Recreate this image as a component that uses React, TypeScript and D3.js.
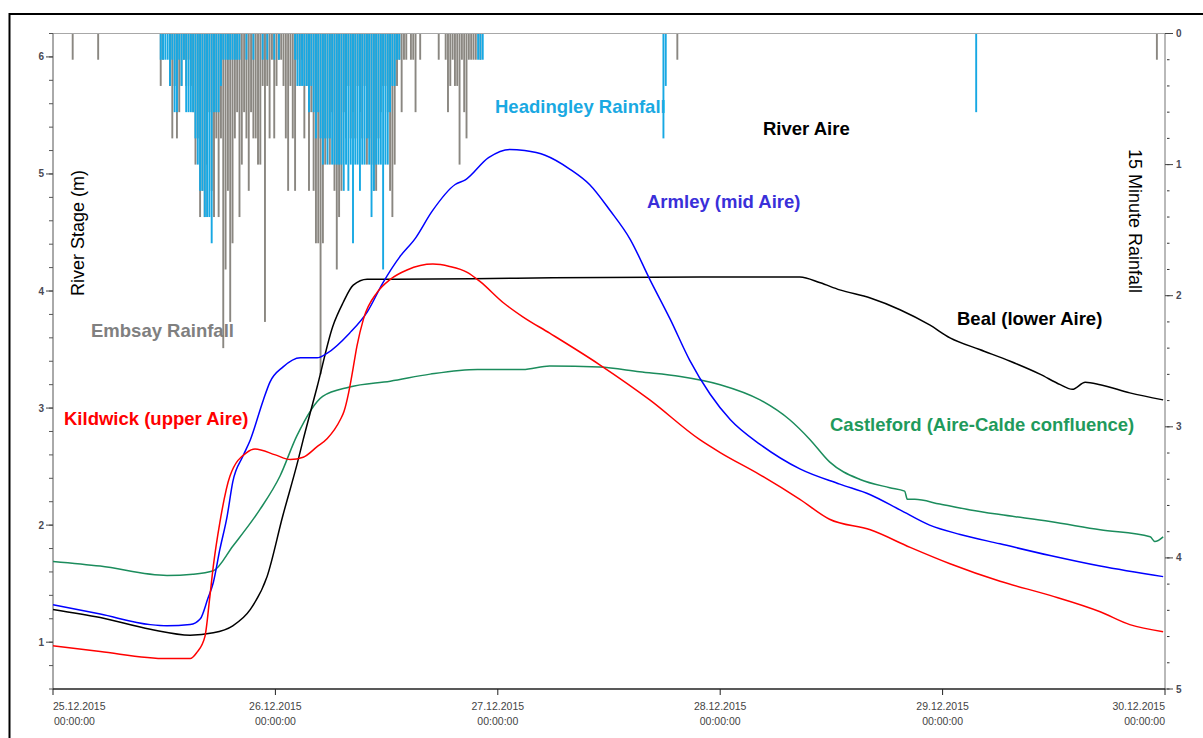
import React from 'react';
import * as d3 from 'd3';

// ---- axis labels ----
const dayLabels = ['25.12.2015', '26.12.2015', '27.12.2015', '28.12.2015', '29.12.2015', '30.12.2015'];
const timeLabel = '00:00:00';
const stageTicks = [1, 2, 3, 4, 5, 6];
const rainTicks = [0, 1, 2, 3, 4, 5];

// ---- river stage series: [hours since 25.12.2015 00:00, stage m] ----
const kildwick: [number, number][] = [
  [0, 0.97], [5.1, 0.92], [12.3, 0.86], [14.8, 0.86], [15.5, 0.91], [16.4, 1.05], [16.9, 1.37], [17.3, 1.65],
  [18.0, 2.02], [19.1, 2.42], [20.9, 2.62], [21.8, 2.65], [24.0, 2.6], [25.6, 2.56], [27.0, 2.58], [28.5, 2.67],
  [29.6, 2.74], [31.0, 2.9], [31.4, 2.97], [31.9, 3.13], [32.3, 3.3], [32.8, 3.53], [33.5, 3.76], [35.0, 3.99],
  [36.4, 4.1], [38.2, 4.18], [41.0, 4.23], [42.8, 4.21], [44.7, 4.16], [46.1, 4.08], [48.6, 3.9], [50.7, 3.78],
  [53.6, 3.64], [59.0, 3.37], [64.4, 3.07], [69.8, 2.73], [72.0, 2.62], [76.3, 2.43], [80.6, 2.22], [83.8, 2.05],
  [88.2, 1.96], [92.5, 1.81], [96.8, 1.67], [102.2, 1.52], [107.6, 1.4], [113.0, 1.26], [116.2, 1.15], [119.8, 1.09],
];
const armley: [number, number][] = [
  [0, 1.32], [5.1, 1.24], [10.5, 1.15], [12.3, 1.14], [14.8, 1.15], [15.9, 1.2], [16.7, 1.37], [17.3, 1.51],
  [18.0, 1.79], [18.8, 2.08], [19.4, 2.37], [20.5, 2.59], [21.3, 2.73], [22.7, 3.07], [23.4, 3.22], [24.8, 3.35],
  [26.7, 3.43], [28.5, 3.43], [29.6, 3.47], [32.0, 3.64], [33.9, 3.82], [35.6, 4.07], [37.4, 4.29], [39.1, 4.45],
  [40.9, 4.68], [43.4, 4.91], [44.5, 4.95], [47.0, 5.14], [49.3, 5.21], [50.9, 5.2], [53.1, 5.16], [55.8, 5.04],
  [57.9, 4.91], [60.1, 4.69], [62.3, 4.44], [64.4, 4.1], [66.6, 3.76], [68.7, 3.41], [70.9, 3.12], [73.1, 2.9],
  [76.3, 2.69], [80.6, 2.48], [84.9, 2.35], [88.2, 2.26], [91.4, 2.13], [94.6, 2.0], [97.9, 1.92], [102.2, 1.84],
  [107.6, 1.74], [113.0, 1.65], [119.8, 1.56],
];
const beal: [number, number][] = [
  [0, 1.28], [5.1, 1.21], [10.5, 1.11], [14.8, 1.06], [17.3, 1.08], [19.4, 1.14], [21.3, 1.28], [23.1, 1.56],
  [24.8, 2.08], [26.4, 2.54], [27.0, 2.73], [28.5, 3.18], [30.2, 3.7], [31.3, 3.9], [32.4, 4.05], [33.9, 4.1],
  [36.4, 4.1], [50.0, 4.11], [70.0, 4.12], [80.6, 4.12], [82.8, 4.07], [84.9, 4.01], [88.2, 3.94], [91.4, 3.84],
  [94.6, 3.71], [96.8, 3.6], [100.0, 3.5], [103.3, 3.4], [106.5, 3.29], [108.7, 3.2], [110.0, 3.16], [111.4, 3.22],
  [113.0, 3.2], [116.2, 3.13], [119.8, 3.07],
];
const castleford: [number, number][] = [
  [0, 1.69], [5.1, 1.65], [12.3, 1.57], [15.1, 1.58], [17.3, 1.61], [19.4, 1.82], [22.3, 2.13], [24.5, 2.42],
  [26.3, 2.76], [29.1, 3.1], [32.0, 3.18], [36.4, 3.23], [40.7, 3.29], [45.8, 3.33], [50.7, 3.33], [53.6, 3.36],
  [59.0, 3.35], [63.3, 3.31], [67.7, 3.27], [72.0, 3.2], [76.3, 3.07], [79.5, 2.9], [81.7, 2.73], [83.8, 2.54],
  [87.1, 2.39], [90.3, 2.32], [91.9, 2.29], [92.2, 2.22], [93.0, 2.22], [95.7, 2.18], [99.0, 2.13], [102.2, 2.09],
  [107.6, 2.03], [113.0, 1.96], [118.4, 1.9], [118.9, 1.86], [119.8, 1.9],
];

// ---- 15 minute rainfall: [quarter-hour index since 25.12.2015 00:00, mm] ----
const embsayRain: [number, number][] = [
  [8, 0.2], [19, 0.2], [46, 0.4], [47, 0.2], [50, 0.4], [51, 0.8], [52, 0.4], [53, 0.8], [54, 0.6], [55, 0.4],
  [56, 0.2], [57, 0.4], [58, 0.2], [59, 0.4], [60, 0.6], [61, 1.0], [62, 0.8], [63, 1.4], [64, 1.2], [65, 1.4],
  [66, 1.0], [67, 0.6], [68, 1.2], [69, 1.4], [70, 0.8], [71, 1.4], [72, 0.8], [73, 2.4], [74, 1.8], [75, 1.2],
  [76, 2.2], [77, 1.6], [78, 0.8], [79, 0.6], [80, 1.4], [81, 1.0], [82, 0.6], [83, 0.8], [84, 1.2], [85, 0.6],
  [86, 0.8], [87, 0.8], [88, 1.0], [89, 1.0], [90, 0.4], [91, 2.2], [92, 0.4], [93, 0.8], [94, 0.2], [95, 0.8],
  [96, 0.4], [97, 0.2], [98, 0.2], [99, 0.4], [100, 0.8], [101, 1.2], [102, 0.4], [103, 0.8], [104, 1.2], [105, 0.2],
  [106, 0.4], [107, 0.2], [108, 0.8], [109, 0.4], [110, 1.2], [111, 0.6], [112, 1.2], [113, 1.6], [114, 1.6], [115, 2.6],
  [116, 1.6], [117, 1.0], [118, 0.8], [119, 1.0], [120, 0.6], [121, 1.2], [122, 1.8], [123, 1.4], [124, 1.2], [125, 0.6],
  [126, 0.8], [127, 0.4], [128, 0.8], [129, 0.6], [130, 0.8], [131, 0.4], [132, 0.6], [133, 0.8], [134, 0.4], [135, 1.0],
  [136, 0.8], [137, 1.0], [138, 1.2], [139, 1.2], [140, 0.8], [141, 0.6], [142, 0.4], [143, 0.4], [144, 0.6], [145, 1.2],
  [146, 1.4], [147, 1.0], [148, 0.4], [149, 0.2], [150, 0.6], [151, 0.2], [152, 0.2], [154, 0.2], [155, 0.2], [156, 0.6],
  [158, 0.2], [166, 0.2], [169, 0.2], [170, 0.6], [171, 0.4], [172, 0.2], [173, 0.4], [174, 0.4], [175, 1.0], [176, 0.2],
  [177, 0.6], [178, 0.8], [179, 0.2], [180, 0.2], [181, 0.2], [182, 0.2], [184, 0.2], [269, 0.2], [476, 0.2],
];
const headingleyRain: [number, number][] = [
  [46, 0.2], [47, 0.2], [48, 0.2], [49, 0.2], [50, 0.4], [51, 0.2], [52, 0.6], [53, 0.6], [54, 0.2], [55, 0.4],
  [56, 0.2], [57, 0.6], [58, 0.6], [59, 0.6], [60, 0.6], [61, 0.8], [62, 1.0], [63, 1.2], [64, 1.2], [65, 1.4],
  [66, 1.4], [67, 1.4], [68, 1.6], [69, 0.6], [70, 0.6], [71, 0.6], [72, 0.4], [73, 0.2], [74, 0.2], [75, 0.2],
  [76, 0.2], [77, 0.2], [78, 0.2], [79, 0.2], [80, 0.2], [83, 0.2], [86, 0.2], [90, 0.2], [92, 0.2], [95, 0.2],
  [97, 0.2], [104, 0.2], [105, 0.4], [106, 0.4], [107, 0.4], [108, 0.4], [109, 0.4], [110, 0.6], [111, 0.4], [112, 0.6],
  [113, 0.8], [114, 0.6], [115, 0.8], [116, 1.0], [117, 0.8], [118, 1.0], [119, 0.8], [120, 1.0], [121, 1.0], [122, 1.0],
  [123, 1.0], [124, 1.0], [125, 1.2], [126, 1.0], [127, 1.2], [128, 1.0], [129, 1.6], [130, 1.0], [131, 1.0], [132, 1.2],
  [133, 1.0], [134, 1.0], [135, 0.8], [136, 1.0], [137, 1.4], [138, 1.2], [139, 1.0], [140, 1.0], [141, 1.0], [142, 1.8],
  [143, 1.0], [144, 1.0], [145, 0.6], [146, 0.4], [147, 0.4], [148, 0.2], [149, 0.2], [183, 0.2], [184, 0.2], [185, 0.2],
  [263, 0.8], [264, 0.4], [398, 0.6],
];

const FONT = '"Liberation Sans", Arial, sans-serif';

export default function App() {
  const W = 1203;
  const H = 738;
  const left = 53, right = 1165, top = 33.5, bottom = 689;

  const x = d3.scaleLinear().domain([0, 120]).range([left, right]);
  const yS = d3.scaleLinear().domain([0.6, 6.2]).range([bottom, top]);
  const yR = d3.scaleLinear().domain([0, 5]).range([top, bottom]);

  const line = d3
    .line<[number, number]>()
    .x((d) => x(d[0]))
    .y((d) => yS(d[1]))
    .curve(d3.curveMonotoneX);

  const stageMinor = d3.range(0.6, 6.21, 0.2);
  const rainMinor = d3.range(0, 5.01, 0.2);
  const dayTicks = d3.range(0, 121, 24);

  const series = [
    { data: castleford, color: '#1b8c5c' },
    { data: beal, color: '#000000' },
    { data: armley, color: '#0000ff' },
    { data: kildwick, color: '#ff0000' },
  ];

  const barW = 1.9;

  return (
    <svg
      width={W}
      height={H}
      style={{ position: 'absolute', left: 0, top: 0, background: '#fff' }}
      fontFamily={FONT}
    >
      <rect x={0} y={0} width={W} height={H} fill="#fff" />
      {/* outer frame */}
      <rect x={9.5} y={14} width={W + 20} height={H + 20} fill="none" stroke="#000" strokeWidth={2} />

      {/* rainfall bars */}
      <g>
        {embsayRain.map(([q, v]) => (
          <rect key={'e' + q} x={x(q / 4) + 0.2} y={top} width={barW} height={yR(v) - top} fill="#8a8781" />
        ))}
        {headingleyRain.map(([q, v]) => (
          <rect key={'h' + q} x={x(q / 4) + 0.2} y={top} width={barW} height={yR(v) - top} fill="#17a8e3" />
        ))}
      </g>

      {/* plot frame */}
      <line x1={left} x2={right} y1={top} y2={top} stroke="#a8a8a8" strokeWidth={1.2} />
      <line x1={left} x2={left} y1={top} y2={bottom} stroke="#555" strokeWidth={1} />
      <line x1={right} x2={right} y1={top} y2={bottom} stroke="#8a8a8a" strokeWidth={1.2} />
      <line x1={left} x2={right} y1={bottom} y2={bottom} stroke="#222" strokeWidth={1.3} />

      {/* left axis ticks */}
      {stageMinor.map((v) => (
        <line key={'sm' + v} x1={left - 4} x2={left} y1={yS(v)} y2={yS(v)} stroke="#555" strokeWidth={1} />
      ))}
      {stageTicks.map((v) => (
        <g key={'st' + v}>
          <line x1={left - 7} x2={left} y1={yS(v)} y2={yS(v)} stroke="#444" strokeWidth={1} />
          <text x={44} y={yS(v) + 3.5} fontSize={10} fontWeight="bold" fill="#4a4a55" textAnchor="end">
            {v}
          </text>
        </g>
      ))}

      {/* right axis ticks */}
      {rainMinor.map((v) => (
        <line key={'rm' + v} x1={right + 2} x2={right + 4.5} y1={yR(v)} y2={yR(v)} stroke="#333" strokeWidth={1} />
      ))}
      {rainTicks.map((v) => (
        <g key={'rt' + v}>
          <line x1={right} x2={right + 8} y1={yR(v)} y2={yR(v)} stroke="#444" strokeWidth={1} />
          <text x={right + 11} y={yR(v) + 3.5} fontSize={10} fontWeight="bold" fill="#4a4a55" textAnchor="start">
            {v}
          </text>
        </g>
      ))}

      {/* bottom axis */}
      {dayTicks.map((h, i) => {
        const anchor = i === 0 ? 'start' : i === dayTicks.length - 1 ? 'end' : 'middle';
        return (
          <g key={'d' + h}>
            <line x1={x(h)} x2={x(h)} y1={bottom} y2={bottom + 6} stroke="#222" strokeWidth={1} />
            <text x={x(h)} y={bottom + 21} fontSize={10.5} fill="#444" textAnchor={anchor}>
              {dayLabels[i]}
            </text>
            <text x={x(h) + (i === 0 ? 1 : 0)} y={bottom + 36} fontSize={10.5} fill="#444" textAnchor={anchor}>
              {timeLabel}
            </text>
          </g>
        );
      })}

      {/* river stage lines */}
      {series.map((s, i) => (
        <path key={'l' + i} d={line(s.data) || ''} fill="none" stroke={s.color} strokeWidth={1.5} />
      ))}

      {/* axis titles */}
      <text transform="translate(84,233) rotate(-90)" fontSize={18} textAnchor="middle" fill="#000">
        River Stage (m)
      </text>
      <text transform="translate(1129,221) rotate(90)" fontSize={18} textAnchor="middle" fill="#000">
        15 Minute Rainfall
      </text>

      {/* series labels */}
      <g fontWeight="bold" fontSize={18.5}>
        <text x={495} y={113} fill="#1aa9e2">Headingley Rainfall</text>
        <text x={763} y={135} fill="#000">River Aire</text>
        <text x={647} y={208} fill="#3a2fd9">Armley (mid Aire)</text>
        <text x={91} y={337} fill="#808080">Embsay Rainfall</text>
        <text x={957} y={325} fill="#000">Beal (lower Aire)</text>
        <text x={64} y={425} fill="#ff0000">Kildwick (upper Aire)</text>
        <text x={830} y={431} fill="#1f9a5c">Castleford (Aire-Calde confluence)</text>
      </g>
    </svg>
  );
}
